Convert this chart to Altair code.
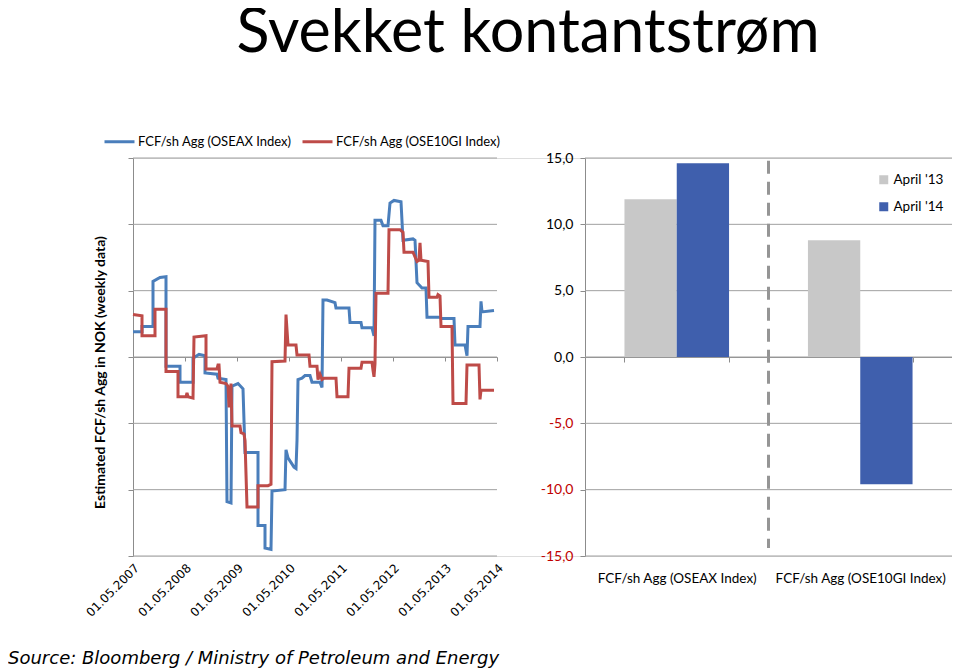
import altair as alt
import pandas as pd

title_text = "Svekket kontantstrøm"
source_text = "Source: Bloomberg / Ministry of Petroleum and Energy"
y_title = "Estimated FCF/sh Agg in NOK (weekly data)"

series_names = ["FCF/sh Agg (OSEAX Index)", "FCF/sh Agg (OSE10GI Index)"]

# weeks since 01.05.2007 and values
oseax_week = [0, 9, 9, 20, 20, 27, 33, 33, 47, 47, 60, 60, 66, 72, 72, 84, 85, 93, 94, 98,
              99, 105, 110, 112, 125, 125, 132, 132, 138, 139, 152, 153, 155, 161, 163, 164, 165, 169, 172, 177,
              179, 187, 189, 190, 194, 202, 203, 216, 217, 228, 229, 239, 241, 242, 248, 250, 255, 257, 261, 268,
              270, 280, 282, 284, 289, 293, 294, 307, 308, 321, 322, 332, 334, 335, 347, 348, 349, 361]
oseax_value = [1.9, 1.9, 2.3, 2.3, 5.7, 6.0, 6.05, -0.7, -0.7, -1.9, -1.9, -0.1, 0.2, 0.1, -1.2, -1.3, -1.6, -1.7, -10.9, -11.0,
               -2.2, -2.0, -2.4, -7.2, -7.2, -12.7, -12.7, -14.4, -14.5, -10.1, -10.0, -7.0, -7.6, -8.3, -8.4, -6.3, -1.7, -1.6, -1.4, -1.4,
               -1.9, -1.9, -2.3, 4.3, 4.3, 4.1, 3.7, 3.7, 2.6, 2.6, 2.2, 2.2, 1.6, 10.3, 10.3, 9.9, 9.9, 11.6, 11.8, 11.7,
               8.8, 8.9, 8.8, 5.6, 5.2, 5.2, 3.0, 3.0, 2.9, 2.9, 0.9, 0.9, 0.1, 2.3, 2.3, 4.2, 3.4, 3.5]

ose10gi_week = [0, 9, 9, 22, 22, 33, 33, 45, 45, 53, 54, 55, 60, 61, 73, 73, 84, 85, 86, 87,
                93, 95, 96, 97, 98, 99, 107, 108, 111, 112, 114, 125, 125, 135, 138, 139, 152, 153, 155, 163,
                164, 176, 177, 184, 185, 187, 189, 191, 203, 204, 215, 216, 228, 229, 239, 240, 241, 242, 243, 255,
                256, 267, 270, 271, 280, 284, 286, 287, 288, 295, 296, 304, 305, 307, 308, 319, 320, 333, 334, 346,
                347, 348, 361]
ose10gi_value = [3.2, 3.1, 1.6, 1.6, 3.6, 3.6, -1.1, -1.1, -3.0, -3.0, -2.7, -3.0, -3.1, 1.5, 1.6, -0.9, -0.9, -0.6, -0.6, -1.9,
                 -2.0, -2.2, -3.7, -3.7, -2.0, -5.2, -5.2, -5.7, -5.8, -6.3, -11.3, -11.3, -9.7, -9.7, -9.6, -0.35, -0.3, 3.2, 0.9, 0.9,
                 0.15, 0.15, -0.7, -0.7, -1.7, -1.3, -1.7, -1.6, -1.6, -3.0, -3.0, -0.85, -0.85, -0.4, -0.4, -1.0, -1.5, -0.5, 4.8, 4.8,
                 9.6, 9.6, 9.4, 7.9, 7.9, 7.2, 7.3, 8.6, 7.3, 7.2, 4.5, 4.5, 4.7, 4.6, 2.3, 2.3, -3.5, -3.5, -0.6, -0.6,
                 -3.2, -2.5, -2.5]

week_ticks = [0, 52, 104, 156, 208, 260, 312, 364]
y_ticks = [-15, -10, -5, 0, 5, 10, 15]

bar_categories = ["FCF/sh Agg (OSEAX Index)", "FCF/sh Agg (OSE10GI Index)"]
bar_periods = ["April '13", "April '14"]
april13 = [11.9, 8.8]
april14 = [14.6, -9.6]

BLUE_LINE = "#4A7EBB"
RED_LINE = "#BE4B48"
GRAY_BAR = "#C8C8C8"
BLUE_BAR = "#3F5FAD"
GRID = "#A0A0A0"
AXIS = "#8C8C8C"

W, H = 819, 398
LINE_W = 364
BAR_START = 452

# ---------- data tables ----------
line_rows = []
for name, weeks, vals in [(series_names[0], oseax_week, oseax_value),
                          (series_names[1], ose10gi_week, ose10gi_value)]:
    for i, (w, v) in enumerate(zip(weeks, vals)):
        line_rows.append({"series": name, "week": w, "value": v, "idx": i})
line_df = pd.DataFrame(line_rows)

bar_rows = []
for c, a, b in zip(bar_categories, april13, april14):
    bar_rows.append({"category": c, "period": bar_periods[0], "value": a})
    bar_rows.append({"category": c, "period": bar_periods[1], "value": b})
bar_df = pd.DataFrame(bar_rows)

grid_df = pd.DataFrame({"v": y_ticks})
tick_df = pd.DataFrame({"week": week_ticks})
cat_df = pd.DataFrame({"category": bar_categories})

# ---------- scales ----------
y_scale = alt.Scale(domain=[-15, 15], nice=False, zero=False)
line_x_scale = alt.Scale(domain=[0, LINE_W], range=[0, LINE_W], nice=False, zero=False)
sep_scale = alt.Scale(domain=[0, 2], range=[BAR_START, W], nice=False, zero=False)
bar_x_scale = alt.Scale(domain=bar_categories, range=[BAR_START, W], paddingInner=0.43, paddingOuter=0.215)

# ---------- layers ----------
grid_left = alt.Chart(grid_df).mark_rule(color=GRID, strokeWidth=1).encode(
    y=alt.Y("v:Q", scale=y_scale, axis=None),
    x=alt.XDatum(0, type="quantitative", scale=line_x_scale, axis=None),
    x2=alt.X2Datum(LINE_W),
)

grid_right = alt.Chart(grid_df).mark_rule(color=GRID, strokeWidth=1).encode(
    y=alt.Y("v:Q", scale=y_scale, axis=None),
    x=alt.XDatum(0, type="quantitative", scale=sep_scale, axis=None),
    x2=alt.X2Datum(2),
)

separator = alt.Chart(cat_df.head(1)).mark_rule(color="#959595", strokeWidth=3, strokeDash=[13, 8]).encode(
    x=alt.XDatum(1, type="quantitative", scale=sep_scale, axis=None),
    y=alt.YDatum(14.8, type="quantitative", scale=y_scale, axis=None),
    y2=alt.Y2Datum(-14.4),
)

bars = alt.Chart(bar_df).mark_bar().encode(
    x=alt.X("category:N", scale=bar_x_scale, sort=bar_categories,
            axis=alt.Axis(orient="bottom", offset=-199, labels=False, ticks=True, tickBand="extent",
                          tickSize=5, tickColor=AXIS, domainColor=AXIS, grid=False, title=None)),
    xOffset=alt.XOffset("period:N", sort=bar_periods, scale=alt.Scale(paddingInner=0, paddingOuter=0)),
    y=alt.Y("value:Q", scale=y_scale,
            axis=alt.Axis(orient="left", offset=-BAR_START, values=y_ticks,
                          labelExpr="(datum.value < 0 ? '-' : '') + replace(format(abs(datum.value), '.1f'), '.', ',')",
                          labelColor={"condition": {"test": "datum.value < 0", "value": "#C00000"}, "value": "black"},
                          labelFont="Lato", labelFontSize=14, labelPadding=7, tickSize=5, tickColor=AXIS,
                          domainColor=AXIS, grid=False, title=None)),
    color=alt.Color("period:N", scale=alt.Scale(domain=bar_periods, range=[GRAY_BAR, BLUE_BAR]),
                    legend=alt.Legend(orient="none", legendX=744, legendY=15, title=None, symbolType="square",
                                      symbolSize=81, symbolStrokeWidth=0, labelFont="Lato", labelFontSize=13.5,
                                      labelColor="black", rowPadding=12, labelOffset=3, labelLimit=0)),
)

lines = alt.Chart(line_df).mark_line(strokeWidth=3).encode(
    x=alt.X("week:Q", scale=line_x_scale,
            axis=alt.Axis(orient="bottom", offset=-199, values=week_ticks, labels=False, ticks=True,
                          tickSize=4, tickColor=AXIS, domain=True, domainColor=AXIS, grid=False, title=None)),
    y=alt.Y("value:Q", scale=y_scale,
            axis=alt.Axis(orient="left", values=y_ticks, labels=False, ticks=True, tickSize=5, tickColor=AXIS,
                          domainColor=AXIS, grid=False, title=y_title, titleFont="Lato", titleFontSize=14,
                          titleFontWeight="bold", titleColor="black", titleX=-33, titleY=214,
                          titleBaseline="middle")),
    color=alt.Color("series:N", scale=alt.Scale(domain=series_names, range=[BLUE_LINE, RED_LINE]),
                    legend=alt.Legend(orient="none", legendX=-30, legendY=-33, direction="horizontal",
                                      title=None, symbolType="stroke", symbolStrokeWidth=3, symbolSize=900,
                                      labelFont="Lato", labelFontSize=13, labelColor="black", labelLimit=0,
                                      columnPadding=4, labelOffset=2)),
    order=alt.Order("idx:Q"),
)

date_labels = alt.Chart(tick_df).mark_point(opacity=0).encode(
    x=alt.X("week:Q", scale=line_x_scale,
            axis=alt.Axis(orient="bottom", values=week_ticks,
                          labelExpr="'01.05.' + (2007 + round(datum.value / 52))",
                          labelAngle=315, labelAlign="right", labelBaseline="top", labelFont="DejaVu Sans",
                          labelFontSize=12, labelColor="black", labelPadding=6, labelOverlap=False,
                          labelBound=False, ticks=False, domain=False, grid=False, title=None)),
)

cat_labels = alt.Chart(cat_df).mark_point(opacity=0).encode(
    x=alt.X("category:N", scale=bar_x_scale, sort=bar_categories,
            axis=alt.Axis(orient="bottom", labels=True, ticks=False, domain=False, labelFont="Lato",
                          labelFontSize=13.5, labelColor="black", labelPadding=15, labelAngle=0, labelLimit=0,
                          title=None, grid=False)),
)

title_layer = alt.Chart(pd.DataFrame({"t": [title_text]})).mark_text(
    font="Lato", fontSize=61, align="center", baseline="alphabetic", color="black"
).encode(text="t:N", x=alt.value(395), y=alt.value(-106))

source_layer = alt.Chart(pd.DataFrame({"t": [source_text]})).mark_text(
    font="DejaVu Sans", fontStyle="italic", fontSize=18, align="left", baseline="alphabetic", color="black"
).encode(text="t:N", x=alt.value(-125), y=alt.value(506))

chart = alt.layer(
    grid_left, grid_right, separator, bars, lines, date_labels, cat_labels, title_layer, source_layer
).resolve_scale(
    x="independent", color="independent"
).resolve_axis(
    x="independent", y="independent"
).resolve_legend(
    color="independent"
).properties(
    width=W, height=H,
    padding={"left": 125, "top": 150, "right": 0, "bottom": 115},
    autosize=alt.AutoSizeParams(type="none"),
).configure_view(stroke=None).configure(font="Lato")

chart.save("out.html", embed_options={"renderer": "svg", "actions": False})
